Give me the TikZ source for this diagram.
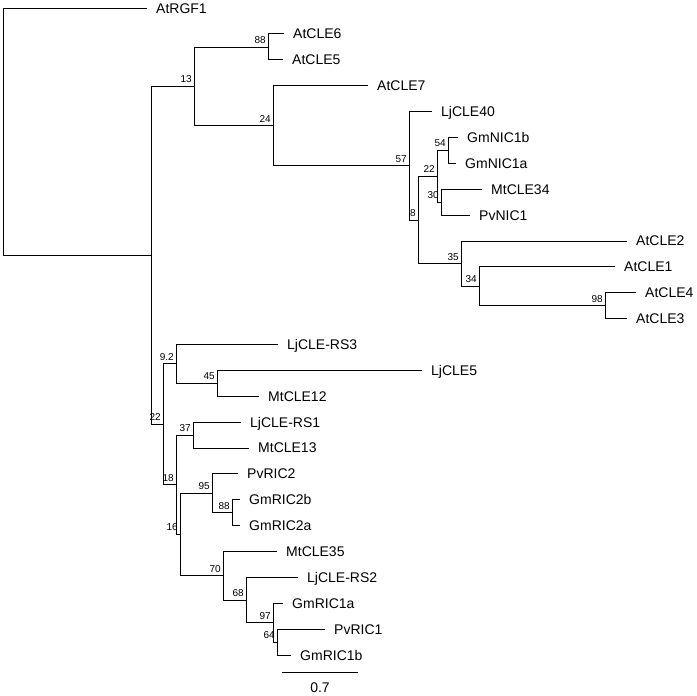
\documentclass[tikz,border=0pt]{standalone}
\usepackage{fontspec}
\setmainfont{Liberation Sans}
\usetikzlibrary{positioning}
\begin{document}
\begin{tikzpicture}[x=1pt, y=-1pt,
    branch/.style={draw=black, line width=0.8pt},
    leaf/.style={anchor=west, inner sep=0pt, text height=10pt, text depth=0pt, font=\fontsize{14}{16}\selectfont},
    boot/.style={anchor=base east, inner sep=0pt, xshift=-2pt, yshift=3.6pt, font=\fontsize{10}{12}\selectfont}]
  \useasboundingbox (0,0) rectangle (697,696);
  % leaves: label / row / tip x
  \foreach \lab/\i/\tx in {AtRGF1/0/147, AtCLE6/1/284, AtCLE5/2/283, AtCLE7/3/368,
      LjCLE40/4/432, GmNIC1b/5/458, GmNIC1a/6/456, MtCLE34/7/482, PvNIC1/8/470,
      AtCLE2/9/627, AtCLE1/10/615, AtCLE4/11/636, AtCLE3/12/627, LjCLE-RS3/13/278,
      LjCLE5/14/422, MtCLE12/15/259, LjCLE-RS1/16/241, MtCLE13/17/249, PvRIC2/18/238,
      GmRIC2b/19/240, GmRIC2a/20/240, MtCLE35/21/277, LjCLE-RS2/22/298,
      GmRIC1a/23/283, PvRIC1/24/325, GmRIC1b/25/291} {
    \coordinate (t\i) at (\tx, {8+25.88*\i});
    \node[leaf, right=9pt of t\i] (l\i) {\lab};
  }
  % inner nodes
  \coordinate (root) at (3, 131.6);
  \coordinate (nA) at (151, 255.3);
  \coordinate (n13) at (194, 86.3);
  \coordinate (n88) at (268, 46.9);
  \coordinate (n24) at (273, 125.7);
  \coordinate (n57) at (409, 165.7);
  \coordinate (n8) at (418, 219.9);
  \coordinate (n22b) at (437, 176.2);
  \coordinate (n54) at (448, 150.3);
  \coordinate (n30) at (441, 202.1);
  \coordinate (n35) at (461, 263.6);
  \coordinate (n34) at (479, 286.2);
  \coordinate (n98) at (605, 305.6);
  \coordinate (n22c) at (163, 424.3);
  \coordinate (n92) at (176, 363.8);
  \coordinate (n45) at (217, 383.2);
  \coordinate (n18) at (176, 484.8);
  \coordinate (n37) at (193, 435.0);
  \coordinate (n16) at (180, 534.5);
  \coordinate (n95) at (212, 493.2);
  \coordinate (n88c) at (232, 512.7);
  \coordinate (n70) at (223, 575.8);
  \coordinate (n68) at (246, 600.0);
  \coordinate (n97) at (273, 622.6);
  \coordinate (n64) at (277, 642.1);
  % branches
  \foreach \p/\c in {root/t0, root/nA, nA/n13, nA/n22c, n13/n88, n13/n24,
      n88/t1, n88/t2, n24/t3, n24/n57, n57/t4, n57/n8, n8/n22b, n8/n35,
      n22b/n54, n22b/n30, n54/t5, n54/t6, n30/t7, n30/t8, n35/t9, n35/n34,
      n34/t10, n34/n98, n98/t11, n98/t12, n22c/n92, n22c/n18, n92/t13, n92/n45,
      n45/t14, n45/t15, n18/n37, n18/n16, n37/t16, n37/t17, n16/n95, n16/n70,
      n95/t18, n95/n88c, n88c/t19, n88c/t20, n70/t21, n70/n68, n68/t22, n68/n97,
      n97/t23, n97/n64, n64/t24, n64/t25}
    \draw[branch] (\p) |- (\c);
  % bootstrap values
  \foreach \n/\v in {n13/13, n88/88, n24/24, n57/57, n8/8, n22b/22, n54/54,
      n30/30, n35/35, n34/34, n98/98, n22c/22, n92/9.2, n45/45, n18/18, n37/37,
      n16/16, n95/95, n88c/88, n70/70, n68/68, n97/97, n64/64}
    \node[boot] at (\n) {\v};
  % scale bar
  \coordinate (s0) at (282, 672);
  \coordinate (s1) at (358, 672);
  \draw[branch] (s0) -- (s1);
  \node[leaf, anchor=north, text height=10pt] (scale) at (320, 682) {0.7};
\end{tikzpicture}
\end{document}
